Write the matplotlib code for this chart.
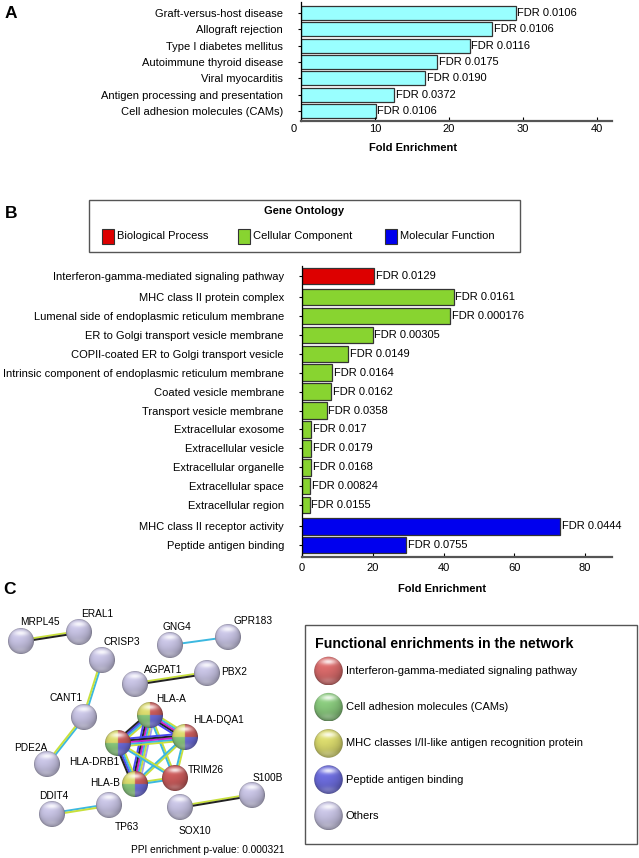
import numpy as np
import matplotlib
matplotlib.use('Agg')
import matplotlib.pyplot as plt
from matplotlib.patches import Circle, Rectangle
from matplotlib.colors import to_rgb
from matplotlib.transforms import ScaledTranslation

plt.rcParams['font.family'] = ['Liberation Sans', 'DejaVu Sans']
plt.rcParams['font.size'] = 8

# ---- data ----
kegg_terms = ['Graft-versus-host disease', 'Allograft rejection', 'Type I diabetes mellitus',
              'Autoimmune thyroid disease', 'Viral myocarditis',
              'Antigen processing and presentation', 'Cell adhesion molecules (CAMs)']
kegg_fold = [29.0, 25.8, 22.8, 18.4, 16.8, 12.6, 10.1]
kegg_fdr = ['0.0106', '0.0106', '0.0116', '0.0175', '0.0190', '0.0372', '0.0106']

go_terms = ['Interferon-gamma-mediated signaling pathway', 'MHC class II protein complex',
            'Lumenal side of endoplasmic reticulum membrane', 'ER to Golgi transport vesicle membrane',
            'COPII-coated ER to Golgi transport vesicle',
            'Intrinsic component of endoplasmic reticulum membrane', 'Coated vesicle membrane',
            'Transport vesicle membrane', 'Extracellular exosome', 'Extracellular vesicle',
            'Extracellular organelle', 'Extracellular space', 'Extracellular region',
            'MHC class II receptor activity', 'Peptide antigen binding']
go_fold = [20.3, 42.9, 41.9, 20.0, 13.1, 8.6, 8.3, 7.0, 2.6, 2.6, 2.6, 2.3, 2.2, 72.9, 29.5]
go_fdr = ['0.0129', '0.0161', '0.000176', '0.00305', '0.0149', '0.0164', '0.0162', '0.0358',
          '0.017', '0.0179', '0.0168', '0.00824', '0.0155', '0.0444', '0.0755']
go_group = ['Biological Process'] + ['Cellular Component'] * 12 + ['Molecular Function'] * 2
go_groups = ['Biological Process', 'Cellular Component', 'Molecular Function']

# network (positions are the layout, in pixels)
node_names = ['MRPL45', 'ERAL1', 'CRISP3', 'GNG4', 'GPR183', 'AGPAT1', 'PBX2', 'CANT1',
              'HLA-A', 'HLA-DQA1', 'HLA-DRB1', 'PDE2A', 'TRIM26', 'HLA-B', 'S100B',
              'DDIT4', 'TP63', 'SOX10']
node_x = [21, 79, 102, 170, 228, 135, 207, 84, 150, 185, 118, 47, 175, 135, 252, 52, 109, 180]
node_y = [641, 632, 660, 645, 637, 684, 673, 717, 715, 737, 743, 764, 778, 784, 795, 814, 805, 807]
node_cat = ['other'] * 8 + ['multi', 'multi', 'multi', 'other', 'ifn', 'multi', 'other',
                            'other', 'other', 'other']
label_x = [40, 97, 122, 177, 253, 163, 234, 66, 171, 218, 94, 31, 206, 105, 268, 54, 127, 195]
label_y = [622, 614, 642, 627, 621, 670, 672, 698, 699, 720, 762, 748, 770, 783, 778, 796, 827, 831]

edges = [('MRPL45', 'ERAL1', 'yk'), ('CRISP3', 'CANT1', 'cy'), ('CANT1', 'PDE2A', 'cy'),
         ('GNG4', 'GPR183', 'c'), ('AGPAT1', 'PBX2', 'yk'), ('DDIT4', 'TP63', 'cy'),
         ('SOX10', 'S100B', 'yk'),
         ('HLA-A', 'HLA-DQA1', 'ycmkb'), ('HLA-A', 'HLA-DRB1', 'ycbk'),
         ('HLA-A', 'HLA-B', 'pycmkb'), ('HLA-A', 'TRIM26', 'yc'),
         ('HLA-DQA1', 'HLA-DRB1', 'ycmkb'), ('HLA-DQA1', 'HLA-B', 'yc'),
         ('HLA-DQA1', 'TRIM26', 'yc'), ('HLA-DRB1', 'HLA-B', 'ycbk'),
         ('HLA-DRB1', 'TRIM26', 'yc'), ('HLA-B', 'TRIM26', 'yc')]

enrich_labels = ['Interferon-gamma-mediated signaling pathway', 'Cell adhesion molecules (CAMs)',
                 'MHC classes I/II-like antigen recognition protein', 'Peptide antigen binding',
                 'Others']

# ---- styles ----
go_palette = {'Biological Process': '#dd0000', 'Cellular Component': '#88d430',
              'Molecular Function': '#0000ee'}
edge_palette = {'y': '#c8e03c', 'k': '#222222', 'c': '#3cb8e0', 'b': '#4848f0',
                'm': '#d020d0', 'p': '#a0a0f0'}
sphere_red = '#c85a5a'
sphere_green = '#88c87c'
sphere_yellow = '#d8d86c'
sphere_blue = '#6c6cdc'
sphere_other = '#c6c2e2'
enrich_colors = ['#d86a6a', sphere_green, sphere_yellow, sphere_blue, sphere_other]

W, H = 639, 858


def px_axes(fig, left, top, right, bottom):
    return fig.add_axes([left / W, 1 - bottom / H, (right - left) / W, (bottom - top) / H])


def sphere(ax, x, y, r, colors):
    n = 64
    u = np.linspace(-1, 1, n)
    U, V = np.meshgrid(u, -u)
    Z = np.sqrt(np.clip(1 - U ** 2 - V ** 2, 0, 1))
    base = np.zeros((n, n, 3))
    if len(colors) == 1:
        base[:] = to_rgb(colors[0])
    else:
        tl, tr, bl, br = [np.array(to_rgb(c)) for c in colors]
        base[(U < 0) & (V >= 0)] = tl
        base[(U >= 0) & (V >= 0)] = tr
        base[(U < 0) & (V < 0)] = bl
        base[(U >= 0) & (V < 0)] = br
    light = np.array([-0.25, 0.55, 0.8])
    light = light / np.linalg.norm(light)
    lam = np.clip(U * light[0] + V * light[1] + Z * light[2], 0, 1)
    shade = (0.76 + 0.28 * lam) * (1 - 0.25 * (1 - Z) ** 3)
    img = base * shade[..., None]
    glow = 0.2 * np.exp(-(U / 0.6) ** 2 - ((V + 0.72) / 0.22) ** 2)
    spec = 0.85 * np.exp(-(U / 0.55) ** 2 - ((V - 0.62) / 0.2) ** 2)
    for s in (glow, spec):
        img = img * (1 - s[..., None]) + s[..., None]
    img = np.clip(img, 0, 1)
    im = ax.imshow(img, extent=(x - r, x + r, y + r, y - r), interpolation='bilinear', zorder=4)
    im.set_clip_path(Circle((x, y), r, transform=ax.transData))


fig = plt.figure(figsize=(W / 100, H / 100), dpi=100)

# overlay in pixel coordinates
ov = fig.add_axes([0, 0, 1, 1])
ov.axis('off')

# ---- Panel A ----
ax = px_axes(fig, 301, 2, 612, 121)
ax.set_facecolor('none')
ya = np.arange(len(kegg_terms))
ax.barh(ya, kegg_fold, height=0.85, color='#99ffff', edgecolor='#333333', linewidth=0.9)
for yi, v, f in zip(ya, kegg_fold, kegg_fdr):
    ax.annotate(f'FDR {f}', (v, yi), xytext=(1.2, 0), textcoords='offset points',
                va='center', ha='left')
ax.set_xlim(0, 42)
ax.set_ylim(6.6, -0.67)
ax.set_yticks(ya, kegg_terms)
ax.set_xticks([0, 10, 20, 30, 40])
ax.set_xlabel('Fold Enrichment', weight='bold', fontsize=8)
ax.xaxis.set_label_coords((413 - 301) / 311, -(143 - 121) / 119)

# ---- Panel B ----
bx = px_axes(fig, 302, 266, 612, 557)
bx.set_facecolor('none')
gidx = [go_groups.index(g) for g in go_group]
yb = np.arange(len(go_terms)) + 0.12 * np.array(gidx)
bx.barh(yb, go_fold, height=0.88, color=[go_palette[g] for g in go_group],
        edgecolor='#333333', linewidth=0.9)
for yi, v, f in zip(yb, go_fold, go_fdr):
    bx.annotate(f'FDR {f}', (v, yi), xytext=(1.2, 0), textcoords='offset points',
                va='center', ha='left')
bx.set_xlim(0, 87.6)
bx.set_ylim(yb[-1] + 0.63, -0.53)
bx.set_yticks(yb, go_terms)
bx.set_xticks([0, 20, 40, 60, 80])
bx.set_xlabel('Fold Enrichment', weight='bold', fontsize=8)
bx.xaxis.set_label_coords((442 - 302) / 310, -(584 - 557) / 291)

for a, xpad in ((ax, 2.5), (bx, 4)):
    a.spines['top'].set_visible(False)
    a.spines['right'].set_visible(False)
    a.spines['bottom'].set_linewidth(1.6)
    a.spines['bottom'].set_color('#555555')
    a.spines['left'].set_linewidth(0.9)
    a.tick_params(axis='y', length=2.5, width=0.8, pad=10.5, labelsize=8)
    a.tick_params(axis='x', direction='in', length=3, width=0.8, pad=xpad, labelsize=8)

# the "0" of panel A sits a little left of the axis in the original
lbl0 = ax.get_xticklabels()[0]
lbl0.set_transform(lbl0.get_transform() + ScaledTranslation(-7 / 100, 0, fig.dpi_scale_trans))

# Gene Ontology legend
ov.add_patch(Rectangle((88.6, 200), 431, 52, fill=False, edgecolor='#555555', lw=1))
ov.text(304, 211, 'Gene Ontology', weight='bold', ha='center', va='center', fontsize=8)
for x0, g in zip([101.6, 237.8, 385], go_groups):
    ov.add_patch(Rectangle((x0, 228.5), 12, 15, facecolor=go_palette[g],
                           edgecolor='#333333', lw=0.8))
    ov.text(x0 + 15.5, 236, g, va='center', ha='left', fontsize=8)

# ---- Panel C ----
pos = {n: (x, y) for n, x, y in zip(node_names, node_x, node_y)}
for a, b, cols in edges:
    (x1, y1), (x2, y2) = pos[a], pos[b]
    d = np.hypot(x2 - x1, y2 - y1)
    nx, ny = -(y2 - y1) / d, (x2 - x1) / d
    for i, c in enumerate(cols):
        off = (i - (len(cols) - 1) / 2) * 1.8
        ov.plot([x1 + nx * off, x2 + nx * off], [y1 + ny * off, y2 + ny * off],
                color=edge_palette[c], lw=1.4, solid_capstyle='butt', zorder=2)

for n, x, y, cat in zip(node_names, node_x, node_y, node_cat):
    if cat == 'multi':
        cols = [sphere_yellow, sphere_red, sphere_green, sphere_blue]
    elif cat == 'ifn':
        cols = [sphere_red]
    else:
        cols = [sphere_other]
    sphere(ov, x, y, 13, cols)

for n, lx, ly in zip(node_names, label_x, label_y):
    ov.text(lx, ly, n, ha='center', va='center', fontsize=7.3, zorder=5)
ov.text(208, 850, 'PPI enrichment p-value: 0.000321', ha='center', va='center', fontsize=7.3)

# Functional enrichment legend
ov.add_patch(Rectangle((305, 625), 332, 219, fill=False, edgecolor='#555555', lw=1))
ov.text(315, 644, 'Functional enrichments in the network', weight='bold', fontsize=10.2,
        ha='left', va='center')
for i, (lab, col) in enumerate(zip(enrich_labels, enrich_colors)):
    yy = 671 + i * 36.2
    sphere(ov, 328.5, yy, 14.3, [col])
    ov.text(346, yy, lab, ha='left', va='center', fontsize=8)

# panel letters
for lab, x, y in (('A', 11, 13), ('B', 11, 213), ('C', 9, 589)):
    ov.text(x, y, lab, weight='bold', fontsize=12.5, ha='center', va='center')

ov.set_xlim(0, W)
ov.set_ylim(H, 0)
ov.set_aspect('auto')

fig.savefig('out.png', dpi=100)
